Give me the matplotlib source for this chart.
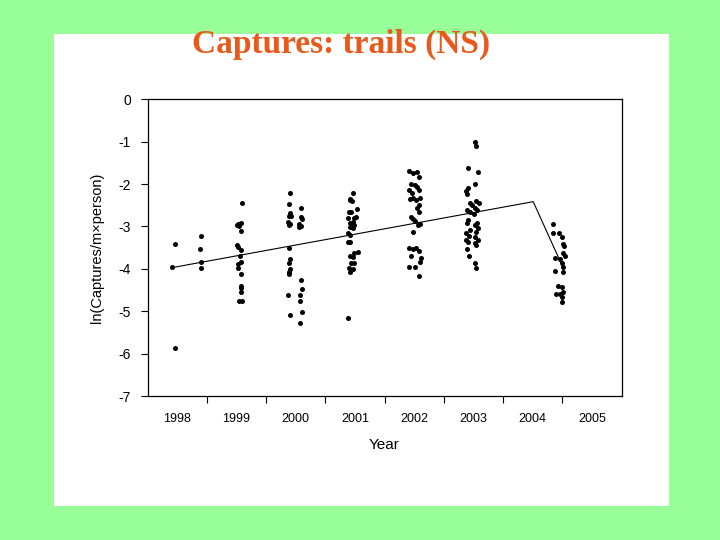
import matplotlib
matplotlib.use("Agg")
import matplotlib.pyplot as plt
from matplotlib.patches import Rectangle

plt.rcParams["font.family"] = ["Liberation Sans", "DejaVu Sans"]
plt.rcParams["axes.unicode_minus"] = False

# sampling dates (decimal year) and ln(captures / m x person)
x_1998 = [1998.47, 1998.42, 1998.46, 1998.90, 1998.89, 1998.91, 1998.91]
y_1998 = [-3.41, -3.95, -5.86, -3.22, -3.54, -3.85, -3.99]

x_1999 = [1999.59, 1999.58, 1999.53, 1999.51, 1999.54, 1999.57, 1999.51, 1999.53, 1999.58, 1999.56,
          1999.58, 1999.53, 1999.53, 1999.57, 1999.58, 1999.58, 1999.57, 1999.54, 1999.60]
y_1999 = [-2.45, -2.91, -2.94, -2.96, -2.99, -3.11, -3.44, -3.48, -3.55, -3.69,
          -3.85, -3.88, -3.99, -4.11, -4.40, -4.46, -4.55, -4.75, -4.75]

x_2000 = [2000.40, 2000.39, 2000.41, 2000.39, 2000.42, 2000.37, 2000.40, 2000.38, 2000.59, 2000.59,
          2000.60, 2000.56, 2000.59, 2000.56, 2000.38, 2000.40, 2000.38, 2000.40, 2000.39, 2000.38,
          2000.59, 2000.60, 2000.58, 2000.37, 2000.58, 2000.60, 2000.40, 2000.58]
y_2000 = [-2.21, -2.48, -2.69, -2.75, -2.75, -2.90, -2.94, -2.96, -2.56, -2.77,
          -2.83, -2.95, -3.00, -3.02, -3.50, -3.77, -3.87, -4.00, -4.07, -4.12,
          -4.26, -4.48, -4.62, -4.61, -4.75, -5.02, -5.08, -5.28]

x_2001 = [2001.47, 2001.41, 2001.42, 2001.45, 2001.54, 2001.40, 2001.44, 2001.39, 2001.49, 2001.52,
          2001.46, 2001.42, 2001.49, 2001.41, 2001.46, 2001.39, 2001.41, 2001.38, 2001.42, 2001.55,
          2001.48, 2001.41, 2001.46, 2001.48, 2001.44, 2001.40, 2001.46, 2001.42, 2001.38]
y_2001 = [-2.21, -2.36, -2.38, -2.40, -2.59, -2.65, -2.67, -2.79, -2.79, -2.78,
          -2.89, -2.93, -2.97, -3.02, -3.04, -3.16, -3.19, -3.37, -3.37, -3.61,
          -3.62, -3.69, -3.73, -3.87, -3.87, -3.97, -4.00, -4.07, -5.17]

x_2002 = [2002.42, 2002.48, 2002.55, 2002.58, 2002.45, 2002.51, 2002.55, 2002.58, 2002.42, 2002.46,
          2002.48, 2002.54, 2002.60, 2002.43, 2002.58, 2002.55, 2002.58, 2002.45, 2002.48, 2002.51,
          2002.56, 2002.60, 2002.48, 2002.42, 2002.48, 2002.54, 2002.58, 2002.45, 2002.62, 2002.60,
          2002.42, 2002.51, 2002.58]
y_2002 = [-1.68, -1.73, -1.72, -1.84, -2.00, -2.02, -2.06, -2.14, -2.14, -2.22,
          -2.32, -2.37, -2.34, -2.36, -2.49, -2.57, -2.65, -2.78, -2.82, -2.86,
          -2.96, -2.95, -3.12, -3.51, -3.54, -3.51, -3.57, -3.69, -3.75, -3.85,
          -3.95, -3.95, -4.18]

x_2003 = [2003.53, 2003.55, 2003.41, 2003.57, 2003.53, 2003.41, 2003.38, 2003.40, 2003.44, 2003.48,
          2003.55, 2003.60, 2003.39, 2003.44, 2003.52, 2003.56, 2003.51, 2003.41, 2003.39, 2003.56,
          2003.52, 2003.44, 2003.38, 2003.43, 2003.58, 2003.55, 2003.52, 2003.38, 2003.41, 2003.58,
          2003.52, 2003.55, 2003.39, 2003.42, 2003.52, 2003.55]
y_2003 = [-1.00, -1.10, -1.61, -1.71, -2.00, -2.09, -2.16, -2.24, -2.45, -2.49,
          -2.41, -2.45, -2.61, -2.65, -2.57, -2.61, -2.71, -2.85, -2.92, -2.92,
          -2.96, -3.08, -3.16, -3.22, -3.04, -3.14, -3.24, -3.32, -3.36, -3.33,
          -3.40, -3.44, -3.54, -3.69, -3.87, -3.99]

x_2004 = [2004.85, 2004.85, 2004.94, 2004.99, 2005.01, 2005.03, 2005.01, 2005.05, 2004.88, 2004.96,
          2004.99, 2005.02, 2004.88, 2005.02, 2004.92, 2004.99, 2005.02, 2004.96, 2004.90, 2005.00,
          2005.00]
y_2004 = [-2.95, -3.15, -3.15, -3.24, -3.41, -3.47, -3.63, -3.70, -3.75, -3.77,
          -3.87, -3.95, -4.04, -4.07, -4.40, -4.42, -4.54, -4.59, -4.59, -4.67,
          -4.79]

# fitted trend
trend_x = [1998.42, 2004.51, 2005.00]
trend_y = [-3.97, -2.415, -3.93]

year_labels = ["1998", "1999", "2000", "2001", "2002", "2003", "2004", "2005"]
year_ticks = [1999, 2000, 2001, 2002, 2003, 2004, 2005]
y_ticks = [0, -1, -2, -3, -4, -5, -6, -7]

fig = plt.figure(figsize=(7.2, 5.4), dpi=100, facecolor="#99ff99")
fig.patches.append(Rectangle((54 / 720, 1 - 506 / 540), 615 / 720, 472 / 540,
                             transform=fig.transFigure, facecolor="white", edgecolor="none", zorder=-10))

ax = fig.add_axes([147.5 / 720, 1 - 396 / 540, 474 / 720, 296.7 / 540])
ax.set_zorder(5)

all_x = x_1998 + x_1999 + x_2000 + x_2001 + x_2002 + x_2003 + x_2004
all_y = y_1998 + y_1999 + y_2000 + y_2001 + y_2002 + y_2003 + y_2004
ax.plot(all_x, all_y, "o", color="black", markersize=3.6, markeredgewidth=0)
ax.plot(trend_x, trend_y, color="black", linewidth=0.8)

ax.set_xlim(1998, 2006)
ax.set_ylim(-7, 0)

ax.set_xticks(year_ticks)
ax.set_xticklabels([])
ax.set_xticks([int(label) + 0.5 for label in year_labels], minor=True)
ax.set_xticklabels(year_labels, minor=True)
ax.tick_params(axis="x", which="major", length=5, width=0.8)
ax.tick_params(axis="x", which="minor", length=0, pad=12.5, labelsize=9)

ax.set_yticks(y_ticks)
ax.set_yticklabels([str(v) for v in y_ticks])
ax.tick_params(axis="y", length=5, width=0.8, pad=7, labelsize=10)

for spine in ax.spines.values():
    spine.set_linewidth(0.9)

ax.set_xlabel("Year", fontsize=11, labelpad=9)
ax.set_ylabel("ln(Captures/m\u00d7person)", fontsize=10.5, labelpad=10)

fig.text(0.474, 1 - 53 / 540, "Captures: trails (NS)", ha="center", va="baseline", zorder=10,
         fontsize=24, fontweight="bold", color="#e85a1c", family=["Liberation Serif", "DejaVu Serif"])

fig.savefig("out.png", dpi=100, facecolor=fig.get_facecolor())
